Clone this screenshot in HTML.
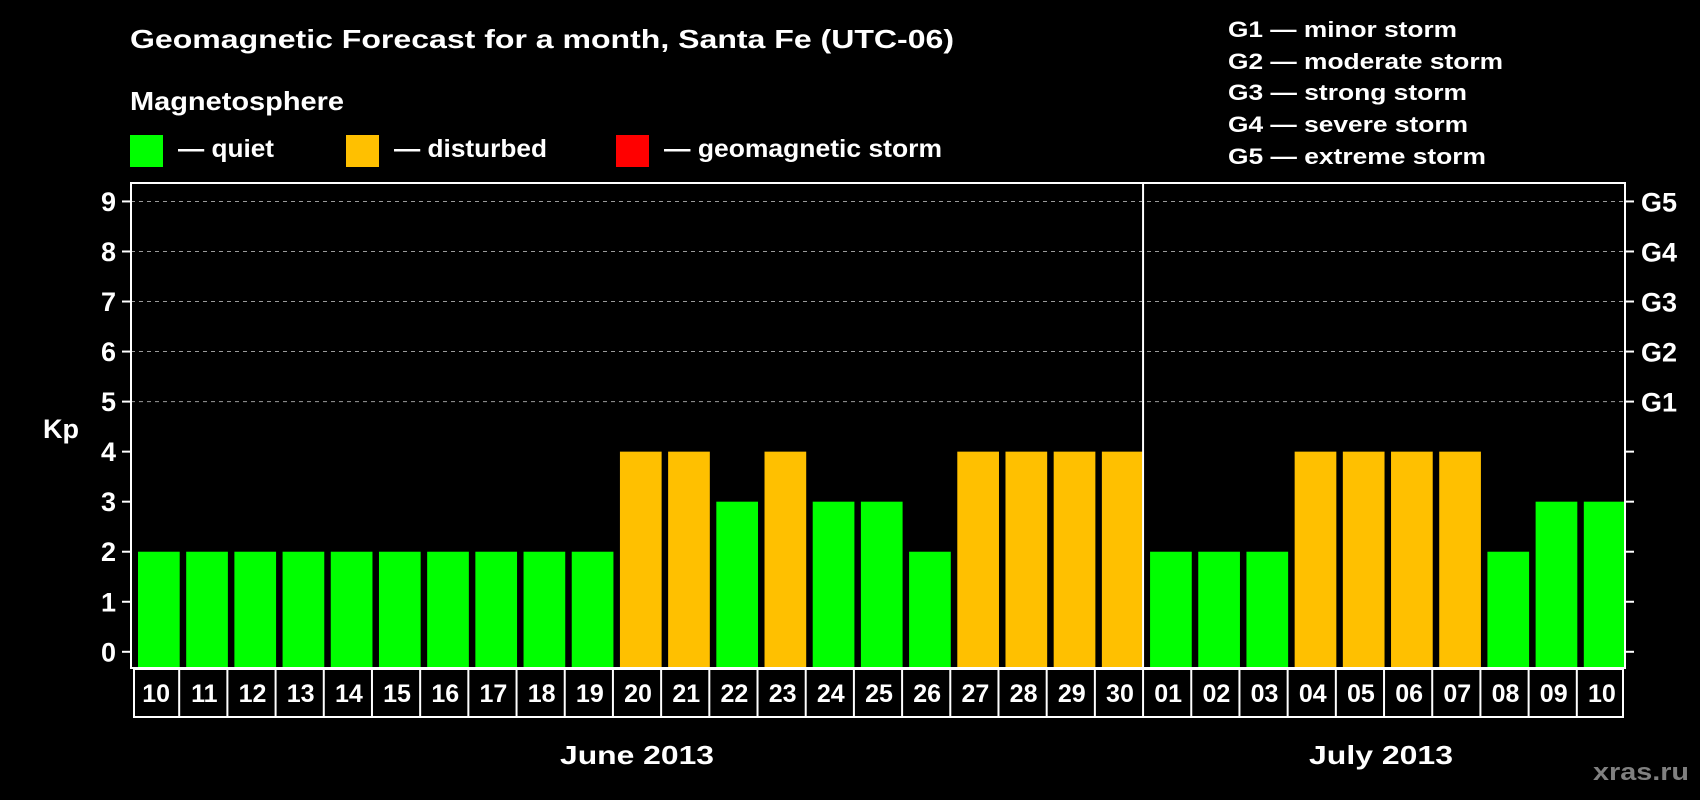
<!DOCTYPE html>
<html><head><meta charset="utf-8"><style>
html,body{margin:0;padding:0;background:#000;width:1700px;height:800px;overflow:hidden}
svg{display:block}
text{font-family:"Liberation Sans",Arial,sans-serif;font-weight:bold;fill:#fff}
</style></head><body>
<svg id="chart" width="1700" height="800" viewBox="0 0 1700 800" xmlns="http://www.w3.org/2000/svg">
<rect x="0" y="0" width="1700" height="800" fill="#000"/>
<text x="130" y="48" font-size="26" textLength="824" lengthAdjust="spacingAndGlyphs">Geomagnetic Forecast for a month, Santa Fe (UTC-06)</text>
<text x="130" y="110" font-size="26" textLength="214" lengthAdjust="spacingAndGlyphs">Magnetosphere</text>
<g>
<rect x="130" y="135" width="33" height="32" fill="#00ff00"/>
<text x="178" y="157" font-size="25" textLength="96" lengthAdjust="spacingAndGlyphs">— quiet</text></g>
<g>
<rect x="346" y="135" width="33" height="32" fill="#ffc000"/>
<text x="394" y="157" font-size="25" textLength="153" lengthAdjust="spacingAndGlyphs">— disturbed</text></g>
<g>
<rect x="616" y="135" width="33" height="32" fill="#ff0000"/>
<text x="664" y="157" font-size="25" textLength="278" lengthAdjust="spacingAndGlyphs">— geomagnetic storm</text></g>
<g font-size="22">
<text x="1228" y="37" textLength="229" lengthAdjust="spacingAndGlyphs">G1 — minor storm</text>
<text x="1228" y="69" textLength="275" lengthAdjust="spacingAndGlyphs">G2 — moderate storm</text>
<text x="1228" y="100" textLength="239" lengthAdjust="spacingAndGlyphs">G3 — strong storm</text>
<text x="1228" y="132" textLength="240" lengthAdjust="spacingAndGlyphs">G4 — severe storm</text>
<text x="1228" y="164" textLength="258" lengthAdjust="spacingAndGlyphs">G5 — extreme storm</text>
</g>
<text x="43" y="438" font-size="27">Kp</text>
<text x="560" y="764" font-size="26" textLength="154" lengthAdjust="spacingAndGlyphs">June 2013</text>
<text x="1309" y="764" font-size="26" textLength="144" lengthAdjust="spacingAndGlyphs">July 2013</text>
<text x="1593" y="780" font-size="24" style="fill:#808080" textLength="96" lengthAdjust="spacingAndGlyphs">xras.ru</text>
<g id="plot"></g>
</svg>
<script>
const days = ["10","11","12","13","14","15","16","17","18","19","20","21","22","23","24","25","26","27","28","29","30","01","02","03","04","05","06","07","08","09","10"];
const kpValues = [2,2,2,2,2,2,2,2,2,2,4,4,3,4,3,3,2,4,4,4,4,2,2,2,4,4,4,4,2,3,3];
const yTicks = [0,1,2,3,4,5,6,7,8,9];
const gLabels = ["G1","G2","G3","G4","G5"];
const juneCount = 21;

const NS = "http://www.w3.org/2000/svg";
const plot = document.getElementById('plot');
const L = 131, R = 1625, T = 183, B = 668;
const slot = (R - L) / days.length;
function xSlot(i){ return L + i * slot; }
function yScale(v){ return 651.8 - 50.04 * v; }
function mk(tag, attrs, parent){
  const e = document.createElementNS(NS, tag);
  for (const k in attrs) e.setAttribute(k, attrs[k]);
  (parent || plot).appendChild(e);
  return e;
}
function color(v){ return v >= 5 ? "#ff0000" : (v >= 4 ? "#ffc000" : "#00ff00"); }

// grid lines
yTicks.forEach(t => {
  if (t >= 5) {
    const g = mk('line', {x1:L, x2:R, y1:yScale(t), y2:yScale(t), stroke:'#9a9a9a', 'stroke-width':1, 'stroke-dasharray':'4,4'});
    
    
  }
});
// bars
kpValues.forEach((v, i) => {
  const y = yScale(v);
  const b = mk('rect', {x: xSlot(i) + 7, y: y, width: slot - 6.5, height: B - y, fill: color(v)});
  
  
});
// frame
const fr = mk('rect', {x:L, y:T, width:R-L, height:B-T, fill:'none', stroke:'#fff', 'stroke-width':2});


const dv = mk('line', {x1:xSlot(juneCount), x2:xSlot(juneCount), y1:T, y2:B, stroke:'#fff', 'stroke-width':2});


// ticks and labels
yTicks.forEach(t => {
  const y = yScale(t);
  mk('line', {x1:122, x2:L, y1:y, y2:y, stroke:'#fff', 'stroke-width':2});
  mk('line', {x1:R, x2:R+9, y1:y, y2:y, stroke:'#fff', 'stroke-width':2});
  const lb = mk('text', {x:116, y:y + 9.5, 'font-size':27, 'text-anchor':'end'});
  lb.textContent = String(t);
  
  
});
gLabels.forEach((g, i) => {
  const y = yScale(5 + i);
  const lb = mk('text', {x:1641, y:y + 10, 'font-size':27});
  lb.textContent = g;
  
  
});
// date boxes
const BX0 = 134, BX1 = 1623, BY0 = 669, BY1 = 717;
const box = mk('rect', {x:BX0, y:BY0, width:BX1-BX0, height:BY1-BY0, fill:'none', stroke:'#fff', 'stroke-width':2});


days.forEach((d, i) => {
  if (i > 0) mk('line', {x1:xSlot(i), x2:xSlot(i), y1:BY0, y2:BY1, stroke:'#fff', 'stroke-width':2});
  const lb = mk('text', {x: xSlot(i) + slot/2 + 1, y: 702, 'font-size':25, 'text-anchor':'middle'});
  lb.textContent = d;
  
  
});
</script>
</body></html>
